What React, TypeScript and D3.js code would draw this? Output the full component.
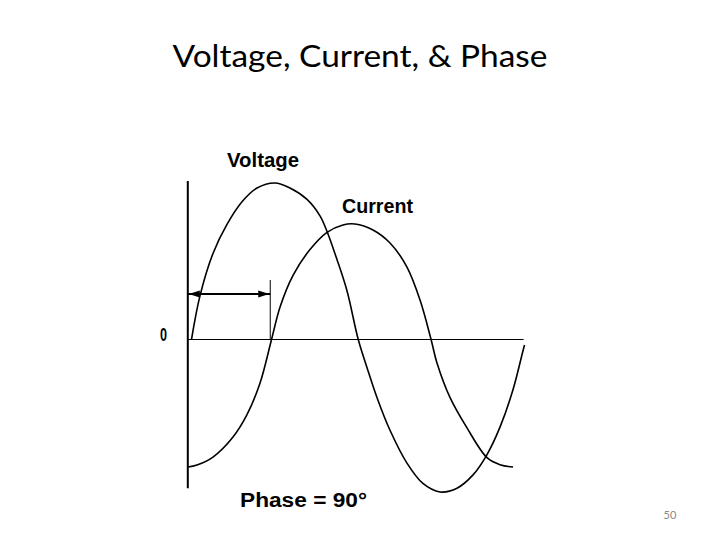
import React from "react";
import * as d3 from "d3";

// Phase (degrees) and amplitude
const voltageDeg = [0, 9.2, 23.2, 38.3, 54.5, 70.7, 90.1, 106.3, 124.7, 138.7, 146.3, 157.1, 167.9, 180, 189.5, 200.2, 214.3, 232.6, 249.8, 268.2, 286.6, 303.9, 319.0, 333.0, 347.1, 357.9, 359.5];
const voltageAmp = [0, 0.28, 0.55, 0.735, 0.88, 0.968, 1.0, 0.968, 0.895, 0.79, 0.69, 0.51, 0.31, 0, -0.18, -0.37, -0.58, -0.79, -0.92, -0.974, -0.95, -0.865, -0.735, -0.56, -0.32, -0.07, -0.035];

const currentDeg = [-3.8, 5.9, 23.2, 44.8, 59.9, 73.9, 86.4, 95.6, 109.6, 127.9, 146.3, 163.5, 176.5, 195.9, 214.3, 232.6, 246.7, 258.6, 265.0, 279.0, 297.4, 319.0, 333.0, 347.1];
const currentAmp = [-0.815, -0.802, -0.751, -0.623, -0.48, -0.28, 0, 0.208, 0.41, 0.575, 0.685, 0.732, 0.738, 0.7, 0.617, 0.463, 0.252, 0, -0.15, -0.37, -0.565, -0.755, -0.8, -0.815];

const title = "Voltage, Current, & Phase";
const seriesLabels = ["Voltage", "Current"];
const zeroLabel = "0";
const phaseLabel = "Phase = 90°";
const pageNumber = "50";
const phaseShiftDeg = 85;

export default function App() {
  const W = 720, H = 540;
  const x = d3.scaleLinear().domain([0, 360]).range([191.5, 525]);
  const y = d3.scaleLinear().domain([-1, 1]).range([496, 183]);

  const line = d3
    .line<[number, number]>()
    .x((d) => x(d[0]))
    .y((d) => y(d[1]))
    .curve(d3.curveCatmullRom.alpha(0.5));

  const vPts = voltageDeg.map((d, i) => [d, voltageAmp[i]] as [number, number]);
  const cPts = currentDeg.map((d, i) => [d, currentAmp[i]] as [number, number]);

  const axisX = x(-4);
  const arrowY = y(0.29);
  const arrowEnd = x(phaseShiftDeg);
  const headL = 11, headH = 3.5;
  const bold = "'Liberation Sans', Arial, sans-serif";

  return (
    <svg
      width={W}
      height={H}
      viewBox={`0 0 ${W} ${H}`}
      style={{ position: "absolute", left: 0, top: 0, background: "#fff" }}
    >
      <rect width={W} height={H} fill="#fff" />
      <text
        x={360}
        y={67}
        textAnchor="middle"
        fontFamily="Lato, 'Open Sans', sans-serif"
        fontSize={30}
        textLength={375}
        lengthAdjust="spacingAndGlyphs"
        fill="#000"
      >
        {title}
      </text>

      {/* axes */}
      <line x1={axisX} x2={axisX} y1={y(1.012)} y2={y(-0.95)} stroke="#000" strokeWidth={2} />
      <line x1={axisX} x2={x(358.5)} y1={y(0)} y2={y(0)} stroke="#000" strokeWidth={1.2} />

      {/* curves */}
      <path d={line(vPts) || ""} fill="none" stroke="#000" strokeWidth={1.6} />
      <path d={line(cPts) || ""} fill="none" stroke="#000" strokeWidth={1.6} />

      {/* phase arrow */}
      <line x1={arrowEnd} x2={arrowEnd} y1={y(0.38)} y2={y(0)} stroke="#000" strokeWidth={1} />
      <line x1={axisX} x2={arrowEnd} y1={arrowY} y2={arrowY} stroke="#000" strokeWidth={2} />
      <polygon
        points={`${axisX + 1},${arrowY} ${axisX + 1 + headL},${arrowY - headH} ${axisX + 1 + headL},${arrowY + headH}`}
        fill="#000"
      />
      <polygon
        points={`${arrowEnd - 1},${arrowY} ${arrowEnd - 1 - headL},${arrowY - headH} ${arrowEnd - 1 - headL},${arrowY + headH}`}
        fill="#000"
      />

      {/* labels */}
      <text x={227} y={167} fontFamily={bold} fontWeight="bold" fontSize={21} textLength={72} lengthAdjust="spacingAndGlyphs">
        {seriesLabels[0]}
      </text>
      <text x={342} y={213} fontFamily={bold} fontWeight="bold" fontSize={21} textLength={71} lengthAdjust="spacingAndGlyphs">
        {seriesLabels[1]}
      </text>
      <text x={160} y={341} fontFamily={bold} fontWeight="bold" fontSize={18} textLength={7} lengthAdjust="spacingAndGlyphs">
        {zeroLabel}
      </text>
      <text x={240} y={507} fontFamily={bold} fontWeight="bold" fontSize={20} textLength={127} lengthAdjust="spacingAndGlyphs">
        {phaseLabel}
      </text>

      <text x={670} y={519} textAnchor="middle" fontFamily="Lato, sans-serif" fontSize={11} fill="#888">
        {pageNumber}
      </text>
    </svg>
  );
}
